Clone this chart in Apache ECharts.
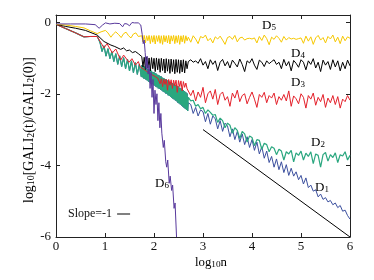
<!DOCTYPE html>
<html><head><meta charset="utf-8">
<script src="https://cdn.jsdelivr.net/npm/echarts@6/dist/echarts.min.js"></script>
<style>html,body{margin:0;padding:0;background:#fff}#c{width:374px;height:280px}</style>
</head><body><div id="c"></div>
<script>
// ---- data ----
const xTickValues = [0,1,2,3,4,5,6];
const yTickValues = [0,-2,-4,-6];
const seriesNames = ['D1','D2','D3','D4','D5','D6'];

const tailX = [2.70,2.75,2.80,2.85,2.90,2.95,3.00,3.05,3.10,3.15,
3.20,3.25,3.30,3.35,3.40,3.45,3.50,3.55,3.60,3.65,
3.70,3.75,3.80,3.85,3.90,3.95,4.00,4.05,4.10,4.15,
4.20,4.25,4.30,4.35,4.40,4.45,4.50,4.55,4.60,4.65,
4.70,4.75,4.80,4.85,4.90,4.95,5.00,5.05,5.10,5.15,
5.20,5.25,5.30,5.35,5.40,5.45,5.50,5.55,5.60,5.65,
5.70,5.75,5.80,5.85,5.90,5.95,6.00];
const midX = [1.750,1.775,1.800,1.825,1.850,1.875,1.900,1.925,1.950,1.975,
2.000,2.025,2.050,2.075,2.100,2.125,2.150,2.175,2.200,2.225,
2.250,2.275,2.300,2.325,2.350,2.375,2.400,2.425,2.450,2.475,
2.500,2.525,2.550,2.575,2.600,2.625,2.650,2.675];

// D5 (yellow)
const d5HeadX = [0,0.2,0.4,0.57,0.7,0.84,0.92,1.01,1.06,1.12,1.17,1.22,1.28,1.33,1.38,1.43,1.48,1.53,1.58,1.63,1.68,1.72];
const d5HeadY = [-0.06,-0.08,-0.12,-0.16,-0.24,-0.32,-0.27,-0.23,-0.30,-0.42,-0.33,-0.27,-0.35,-0.43,-0.32,-0.28,-0.38,-0.44,-0.33,-0.30,-0.40,-0.45];
const d5MidY = [-0.38,-0.55,-0.37,-0.58,-0.38,-0.52,-0.37,-0.60,-0.38,-0.56,
-0.37,-0.61,-0.38,-0.54,-0.37,-0.59,-0.38,-0.62,-0.37,-0.55,
-0.38,-0.58,-0.37,-0.61,-0.38,-0.53,-0.37,-0.60,-0.38,-0.57,
-0.37,-0.62,-0.38,-0.55,-0.37,-0.59,-0.38,-0.52];
const d5TailY = [-0.42,-0.56,-0.38,-0.47,-0.60,-0.40,-0.44,-0.36,-0.52,-0.45,
-0.58,-0.41,-0.47,-0.39,-0.50,-0.62,-0.43,-0.40,-0.48,-0.37,
-0.55,-0.44,-0.42,-0.50,-0.46,-0.45,-0.47,-0.44,-0.58,-0.40,
-0.51,-0.36,-0.46,-0.63,-0.42,-0.48,-0.38,-0.45,-0.56,-0.40,
-0.50,-0.43,-0.47,-0.45,-0.48,-0.46,-0.44,-0.59,-0.39,-0.53,
-0.41,-0.62,-0.44,-0.37,-0.50,-0.43,-0.58,-0.40,-0.47,-0.36,
-0.55,-0.42,-0.60,-0.39,-0.52,-0.41,-0.45];

// D4 (black)
const d4HeadX = [0,0.2,0.4,0.6,0.84,0.98,1.12,1.2,1.32,1.38,1.44,1.5,1.56,1.62,1.68,1.72];
const d4HeadY = [-0.06,-0.12,-0.17,-0.23,-0.36,-0.54,-0.64,-0.68,-0.76,-0.72,-0.80,-0.78,-0.85,-0.82,-0.88,-0.90];
const d4MidY = [-0.96,-1.25,-0.98,-1.32,-0.97,-1.28,-1.00,-1.36,-0.99,-1.30,
-1.01,-1.38,-1.00,-1.33,-1.02,-1.40,-1.01,-1.35,-1.03,-1.42,
-1.02,-1.37,-1.04,-1.43,-1.03,-1.38,-1.05,-1.44,-1.04,-1.40,
-1.05,-1.43,-1.06,-1.39,-1.05,-1.42,-1.08,-1.30];
const d4TailY = [-1.10,-1.05,-1.12,-1.08,-1.15,-1.02,-1.20,-1.10,-1.30,-1.05,
-1.18,-1.08,-1.35,-1.12,-1.04,-1.22,-1.10,-1.28,-1.06,-1.15,
-1.25,-1.03,-1.18,-1.38,-1.08,-1.14,-1.02,-1.20,-1.32,-1.06,
-1.12,-1.24,-1.08,-1.16,-1.10,-1.05,-1.18,-1.12,-1.30,-1.04,
-1.22,-1.10,-1.36,-1.07,-1.15,-1.26,-1.05,-1.12,-1.33,-1.08,
-1.18,-1.02,-1.28,-1.12,-1.38,-1.06,-1.20,-1.10,-1.32,-1.05,
-1.25,-1.08,-1.36,-1.12,-1.30,-1.06,-1.22];

// D3 (red)
const d3HeadX = [0,0.2,0.4,0.57,0.7,0.84,0.98,1.04,1.15,1.22,1.32,1.38,1.49,1.55,1.62,1.68,1.72];
const d3HeadY = [-0.06,-0.18,-0.30,-0.41,-0.40,-0.40,-0.72,-0.60,-0.86,-0.75,-1.06,-0.92,-1.12,-1.02,-1.20,-1.10,-1.25];
const d3MidY = [-1.27,-1.30,-1.32,-1.35,-1.37,-1.40,-1.42,-1.44,-1.46,-1.48,
-1.50,-1.52,-1.54,-1.56,-1.57,-1.72,-1.58,-1.80,-1.59,-1.74,
-1.60,-1.90,-1.60,-1.76,-1.61,-1.85,-1.62,-1.78,-1.62,-1.96,
-1.63,-1.80,-1.64,-1.92,-1.66,-1.82,-1.70,-1.86];
const d3TailY = [-1.85,-2.05,-1.90,-2.20,-1.95,-2.10,-1.82,-2.25,-2.00,-1.92,
-2.15,-1.88,-2.30,-2.02,-1.95,-2.18,-2.08,-2.35,-1.98,-2.12,
-1.90,-2.22,-2.05,-2.00,-2.28,-2.10,-1.95,-2.15,-2.38,-2.02,
-2.10,-1.96,-2.25,-2.05,-2.12,-1.98,-2.30,-2.08,-2.18,-2.02,
-2.20,-1.92,-2.35,-2.06,-2.14,-2.28,-2.00,-2.10,-2.40,-2.05,
-2.15,-1.98,-2.32,-2.10,-2.22,-2.02,-2.38,-2.12,-2.25,-2.05,
-2.30,-2.08,-2.40,-2.15,-2.22,-2.05,-2.18];

// D2 (green) — D1 coincides with it up to log10 n ~ 2.7
const d2HeadX = [0,0.2,0.4,0.57,0.7,0.84,0.87];
const d2HeadY = [-0.06,-0.18,-0.30,-0.41,-0.40,-0.40,-0.48];
const d2TeethX = [0.90,0.94,0.98,1.02,1.06,1.10,1.14,1.18,1.22,1.26,1.30,1.34,1.38,1.42,1.46,1.50,1.54,1.58,1.62,1.66,1.70,1.74];
const d2TeethY = [-0.58,-0.82,-0.66,-0.95,-0.74,-1.02,-0.82,-1.10,-0.88,-1.18,-0.94,-1.24,-0.99,-1.30,-1.04,-1.36,-1.08,-1.41,-1.13,-1.46,-1.18,-1.52];
const d2BandX = [1.7500,1.7625,1.7750,1.7875,1.8000,1.8125,1.8250,1.8375,1.8500,1.8625,
1.8750,1.8875,1.9000,1.9125,1.9250,1.9375,1.9500,1.9625,1.9750,1.9875,
2.0000,2.0125,2.0250,2.0375,2.0500,2.0625,2.0750,2.0875,2.1000,2.1125,
2.1250,2.1375,2.1500,2.1625,2.1750,2.1875,2.2000,2.2125,2.2250,2.2375,
2.2500,2.2625,2.2750,2.2875,2.3000,2.3125,2.3250,2.3375,2.3500,2.3625,
2.3750,2.3875,2.4000,2.4125,2.4250,2.4375,2.4500,2.4625,2.4750,2.4875,
2.5000,2.5125,2.5250,2.5375,2.5500,2.5625,2.5750,2.5875,2.6000,2.6125,
2.6250,2.6375,2.6500,2.6625,2.6750,2.6875];
const d2BandY = [-1.20,-1.54,-1.22,-1.57,-1.24,-1.58,-1.27,-1.61,-1.28,-1.63,
-1.31,-1.66,-1.32,-1.68,-1.35,-1.71,-1.36,-1.72,-1.39,-1.76,
-1.40,-1.77,-1.43,-1.80,-1.44,-1.82,-1.47,-1.85,-1.48,-1.86,
-1.51,-1.89,-1.52,-1.91,-1.55,-1.94,-1.56,-1.96,-1.59,-1.99,
-1.60,-2.00,-1.63,-2.04,-1.64,-2.06,-1.67,-2.09,-1.68,-2.11,
-1.71,-2.14,-1.72,-2.16,-1.75,-2.19,-1.76,-2.21,-1.79,-2.25,
-1.80,-2.27,-1.83,-2.30,-1.85,-2.33,-1.88,-2.36,-1.90,-2.39,
-1.93,-2.42,-1.96,-2.45,-1.99,-2.48];
const d2TailY = [-2.10,-2.20,-2.18,-2.35,-2.30,-2.42,-2.38,-2.55,-2.45,-2.52,
-2.60,-2.58,-2.80,-2.68,-2.75,-2.95,-2.82,-2.88,-3.10,-2.95,
-3.02,-3.25,-3.05,-3.12,-3.35,-3.18,-3.22,-3.45,-3.28,-3.30,
-3.55,-3.38,-3.42,-3.62,-3.48,-3.52,-3.70,-3.55,-3.60,-3.85,
-3.62,-3.68,-3.58,-3.90,-3.65,-3.72,-3.60,-3.85,-3.66,-3.75,
-3.62,-3.95,-3.68,-3.72,-4.05,-3.70,-3.64,-3.88,-3.70,-3.78,
-3.65,-3.92,-3.70,-3.74,-3.62,-3.85,-3.72];

// D1 (blue) tail
const d1TailY = [-2.25,-2.30,-2.55,-2.38,-2.62,-2.45,-2.50,-2.78,-2.55,-2.85,
-2.62,-2.70,-2.98,-2.75,-3.05,-2.82,-2.90,-3.20,-2.98,-3.28,
-3.05,-3.35,-3.12,-3.42,-3.20,-3.50,-3.28,-3.58,-3.35,-3.68,
-3.48,-3.80,-3.60,-3.92,-3.75,-4.05,-3.82,-4.12,-3.90,-4.20,
-3.98,-4.28,-4.08,-4.30,-4.18,-4.40,-4.28,-4.52,-4.35,-4.62,
-4.55,-4.72,-4.68,-4.88,-4.80,-4.95,-4.90,-5.02,-4.98,-5.10,
-5.05,-5.18,-5.12,-5.28,-5.25,-5.40,-5.50];

// D6 (purple)
const d6X = [0,0.3,0.6,0.8,0.88,0.95,1.01,1.1,1.2,1.3,
1.36,1.40,1.45,1.5,1.55,1.6,1.68,1.73,1.76,1.78,
1.80,1.82,1.84,1.86,1.88,1.90,1.92,1.94,1.96,1.98,
2.00,2.02,2.04,2.06,2.08,2.10,2.12,2.14,
2.16,2.19,2.21,2.24,2.26,2.28,2.31,2.33,2.36,2.38,2.41,2.43,2.46];
const d6Y = [-0.05,-0.05,-0.05,-0.07,-0.17,-0.08,-0.02,-0.05,-0.03,-0.04,
-0.13,-0.04,-0.05,-0.10,-0.01,-0.02,-0.02,-0.08,-0.35,-0.60,
-0.50,-0.85,-1.30,-0.95,-1.45,-1.20,-1.85,-1.40,-2.10,-1.60,
-2.55,-1.90,-2.30,-2.00,-2.75,-2.25,-2.95,-2.55,
-3.10,-3.50,-3.30,-3.90,-4.05,-3.85,-4.50,-4.30,-4.70,-4.55,-5.20,-5.05,-6.00];

// reference slope -1 line
const slopeX = [3,6];
const slopeY = [-3,-6];

// ---- build ----
function zip(xs, ys){ return xs.map((x,i)=>[x, ys[i]]); }
const d2Early = zip(d2HeadX,d2HeadY).concat(zip(d2TeethX,d2TeethY), zip(d2BandX,d2BandY));
const d1Data = d2Early.concat(zip(tailX,d1TailY));
const d2Data = d2Early.concat(zip(tailX,d2TailY));
const d3Data = zip(d3HeadX,d3HeadY).concat(zip(midX,d3MidY), zip(tailX,d3TailY));
const d4Data = zip(d4HeadX,d4HeadY).concat(zip(midX,d4MidY), zip(tailX,d4TailY));
const d5Data = zip(d5HeadX,d5HeadY).concat(zip(midX,d5MidY), zip(tailX,d5TailY));
const d6Data = zip(d6X,d6Y);

const FONT = 'Liberation Serif';
const AX = '#222';

// fit title font sizes to the reference text lengths
const mctx = document.createElement('canvas').getContext('2d');
function tw(t, size){ mctx.font = size + 'px "' + FONT + '"'; return mctx.measureText(t).width; }
function partsWidth(parts, size){ return parts.reduce((s,p)=>s + tw(p[0], p[1] ? size*0.72 : size), 0); }
const yTitleParts = [['log',0],['10',1],['[GALI',0],['2',1],['(t)/GALI',0],['2',1],['(0)]',0]];
const xTitleParts = [['log',0],['10',1],['n',0]];
const ySize = Math.min(15, Math.max(11, 14 * 146 / partsWidth(yTitleParts, 14)));
const xSize = Math.min(15, Math.max(11, 14 * 32 / partsWidth(xTitleParts, 14)));
function richFor(size){
  return {
    a:{fontFamily:FONT, fontSize:size, lineHeight:Math.round(size), verticalAlign:'top', color:'#111'},
    s:{fontFamily:FONT, fontSize:size*0.72, lineHeight:Math.round(size*0.72), verticalAlign:'bottom', padding:[Math.round(size*0.45),0,0,0], color:'#111'}
  };
}
function richText(parts){ return parts.map(p=>'{'+(p[1]?'s':'a')+'|'+p[0]+'}').join(''); }

function lineSeries(name, data, color, w){
  return {name, type:'line', data, showSymbol:false, symbol:'none', clip:true,
    lineStyle:{color, width:w||1}, itemStyle:{color}, emphasis:{disabled:true}, silent:true};
}
function xAx(pos, show){
  return {type:'value', min:0, max:6, interval:1, position:pos,
    axisLine:{show:true, onZero:false, lineStyle:{color:AX, width:1}},
    axisTick:{show:true, inside:true, length:4, lineStyle:{color:AX}},
    axisLabel:{show:show, fontFamily:FONT, fontSize:13, color:'#111', margin:3,
      formatter:v=>xTickValues.includes(v)?String(v):''},
    splitLine:{show:false}};
}
function yAx(pos, show){
  return {type:'value', min:-6, max:0.2, interval:2, position:pos,
    axisLine:{show:true, onZero:false, lineStyle:{color:AX, width:1}},
    axisTick:{show:true, inside:true, length:4, lineStyle:{color:AX}},
    axisLabel:{show:show, fontFamily:FONT, fontSize:13, color:'#111', margin:5,
      formatter:v=>yTickValues.includes(v)?String(v):''},
    splitLine:{show:false}};
}
const subRich = {
  a:{fontFamily:FONT, fontSize:13, lineHeight:13, verticalAlign:'top', color:'#111'},
  s:{fontFamily:FONT, fontSize:9, lineHeight:9, verticalAlign:'bottom', padding:[6,0,0,0], color:'#111'}
};
function dLabel(txt, sub, x, y){
  return {type:'text', x, y, silent:true, style:{text:'{a|'+txt+'}{s|'+sub+'}', rich:subRich, align:'left', verticalAlign:'top'}};
}

const chart = echarts.init(document.getElementById('c'), null, {renderer:'canvas'});
chart.setOption({
  animation:false,
  backgroundColor:'#fff',
  grid:{left:56, right:24, top:15, bottom:43, containLabel:false},
  xAxis:[xAx('bottom', true), xAx('top', false)],
  yAxis:[yAx('left', true), yAx('right', false)],
  legend:{data:[{name:'Slope=-1', icon:'rect'}], left:68, top:208, padding:0, align:'right',
    itemWidth:13, itemHeight:1, selectedMode:false,
    textStyle:{fontFamily:FONT, fontSize:12, color:'#111'}},
  series:[
    lineSeries(seriesNames[0], d1Data, '#3b4f9e'),
    lineSeries(seriesNames[1], d2Data, '#2aa77f', 1.2),
    lineSeries(seriesNames[2], d3Data, '#e4202a'),
    lineSeries(seriesNames[3], d4Data, '#000000'),
    lineSeries(seriesNames[4], d5Data, '#f7c800'),
    lineSeries(seriesNames[5], d6Data, '#58399c'),
    lineSeries('Slope=-1', zip(slopeX, slopeY), '#000000')
  ],
  graphic:[
    dLabel('D','5',262,19),
    dLabel('D','4',291,47),
    dLabel('D','3',291,76),
    dLabel('D','2',311,136),
    dLabel('D','1',315,181),
    dLabel('D','6',155,177),
    {type:'text', x:211, y:263, silent:true, style:{text:richText(xTitleParts), rich:richFor(xSize), align:'center', verticalAlign:'middle'}},
    {type:'text', x:29, y:130, rotation:Math.PI/2, silent:true, style:{text:richText(yTitleParts), rich:richFor(ySize), align:'center', verticalAlign:'middle'}}
  ]
});
</script></body></html>
